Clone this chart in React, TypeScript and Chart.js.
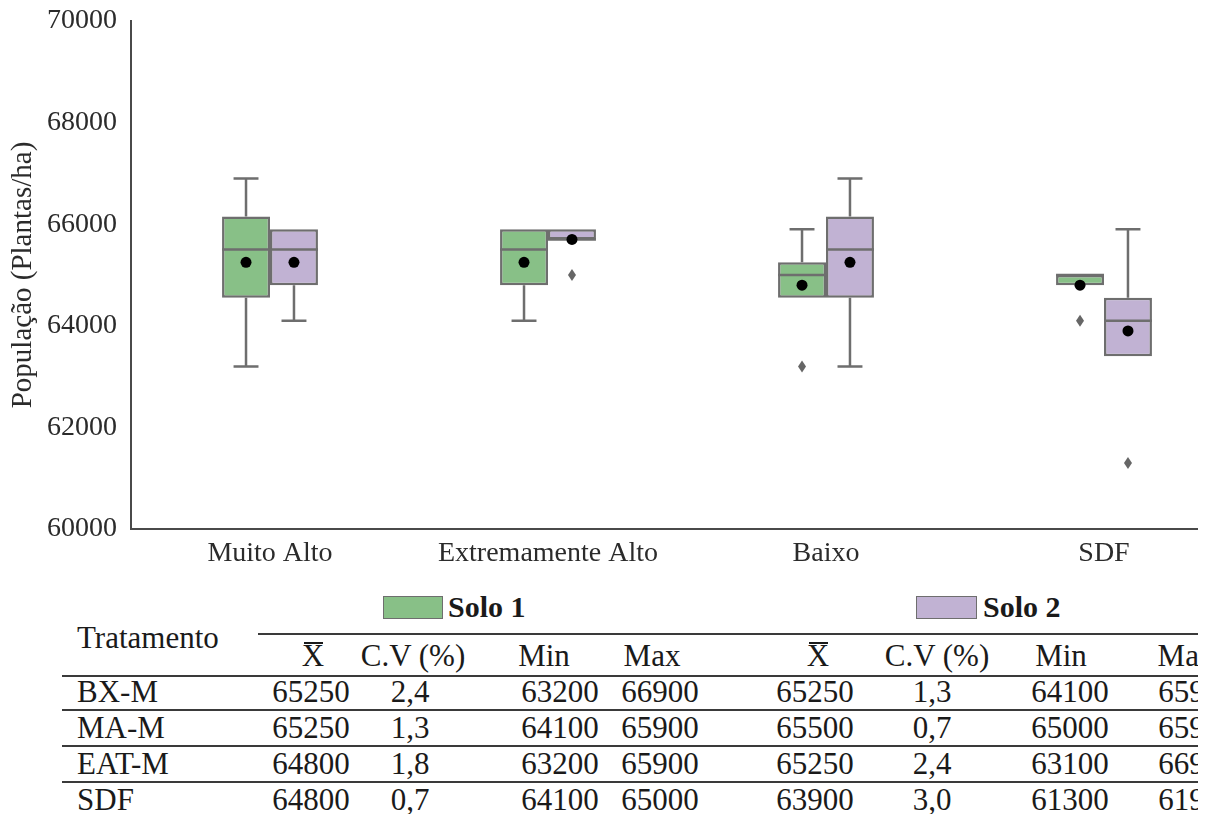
import React, { useEffect, useRef } from "react";
import { Chart, registerables } from "chart.js";

Chart.register(...registerables);

// ---------- Chart data ----------
const categories = ["Muito Alto", "Extremamente Alto", "Baixo", "SDF"];
const seriesNames = ["Solo 1", "Solo 2"];

const solo1WhiskerLow = [63200, 64100, 64550, 64800];
const solo1Q1 = [64550, 64800, 64550, 64800];
const solo1Median = [65500, 65500, 65000, 65000];
const solo1Q3 = [66150, 65900, 65250, 65000];
const solo1WhiskerHigh = [66900, 65900, 65900, 65000];
const solo1Mean = [65250, 65250, 64800, 64800];
const solo1Outliers = [[], [], [63200], [64100]];

const solo2WhiskerLow = [64100, 65700, 63200, 63400];
const solo2Q1 = [64800, 65700, 64550, 63400];
const solo2Median = [65500, 65700, 65500, 64100];
const solo2Q3 = [65900, 65900, 66150, 64550];
const solo2WhiskerHigh = [65900, 65900, 66900, 65900];
const solo2Mean = [65250, 65700, 65250, 63900];
const solo2Outliers = [[], [65000], [], [61300]];

const yTicks = [60000, 62000, 64000, 66000, 68000, 70000];
const yTitle = "População (Plantas/ha)";

// ---------- Table data ----------
const tableTitle = "Tratamento";
const tableColumns = ["X", "C.V (%)", "Min", "Max"];
const tableRowLabels = ["BX-M", "MA-M", "EAT-M", "SDF"];
const tblSolo1Mean = ["65250", "65250", "64800", "64800"];
const tblSolo1CV = ["2,4", "1,3", "1,8", "0,7"];
const tblSolo1Min = ["63200", "64100", "63200", "64100"];
const tblSolo1Max = ["66900", "65900", "65900", "65000"];
const tblSolo2Mean = ["65250", "65500", "65250", "63900"];
const tblSolo2CV = ["1,3", "0,7", "2,4", "3,0"];
const tblSolo2Min = ["64100", "65000", "63100", "61300"];
const tblSolo2Max = ["65900", "65900", "66900", "61900"];

// ---------- Styles ----------
const GREEN = "#88c087";
const PURPLE = "#c1b2d3";
const STROKE = "#6e6e6e";
const FONT = "'Liberation Serif', 'Times New Roman', serif";
const TEXT = "#2b2b2b";

const stats = [
  { low: solo1WhiskerLow, q1: solo1Q1, med: solo1Median, q3: solo1Q3, high: solo1WhiskerHigh, mean: solo1Mean, out: solo1Outliers },
  { low: solo2WhiskerLow, q1: solo2Q1, med: solo2Median, q3: solo2Q3, high: solo2WhiskerHigh, mean: solo2Mean, out: solo2Outliers },
];

const boxPlugin = {
  id: "boxExtras",
  afterDatasetsDraw(chart: any) {
    const ctx = chart.ctx;
    const y = chart.scales.y;
    stats.forEach((s, d) => {
      const meta = chart.getDatasetMeta(d);
      meta.data.forEach((bar: any, i: number) => {
        const x = bar.x;
        const w = bar.width;
        const cap = w * 0.26;
        ctx.save();
        ctx.strokeStyle = STROKE;
        ctx.lineWidth = 2.5;
        const yq1 = y.getPixelForValue(s.q1[i]);
        const yq3 = y.getPixelForValue(s.q3[i]);
        const ylo = y.getPixelForValue(s.low[i]);
        const yhi = y.getPixelForValue(s.high[i]);
        if (s.low[i] < s.q1[i]) {
          ctx.beginPath();
          ctx.moveTo(x, yq1);
          ctx.lineTo(x, ylo);
          ctx.moveTo(x - cap, ylo);
          ctx.lineTo(x + cap, ylo);
          ctx.stroke();
        }
        if (s.high[i] > s.q3[i]) {
          ctx.beginPath();
          ctx.moveTo(x, yq3);
          ctx.lineTo(x, yhi);
          ctx.moveTo(x - cap, yhi);
          ctx.lineTo(x + cap, yhi);
          ctx.stroke();
        }
        const ym = y.getPixelForValue(s.med[i]);
        ctx.beginPath();
        ctx.moveTo(x - w / 2, ym);
        ctx.lineTo(x + w / 2, ym);
        ctx.stroke();
        ctx.fillStyle = "#666666";
        s.out[i].forEach((v: number) => {
          const yo = y.getPixelForValue(v);
          ctx.beginPath();
          ctx.moveTo(x, yo - 6);
          ctx.lineTo(x + 4, yo);
          ctx.lineTo(x, yo + 6);
          ctx.lineTo(x - 4, yo);
          ctx.closePath();
          ctx.fill();
        });
        const ymean = y.getPixelForValue(s.mean[i]);
        ctx.fillStyle = "#000000";
        ctx.beginPath();
        ctx.arc(x, ymean, 5.5, 0, Math.PI * 2);
        ctx.fill();
        ctx.restore();
      });
    });
  },
};

function BoxChart() {
  const ref = useRef<HTMLCanvasElement | null>(null);
  useEffect(() => {
    if (!ref.current) return;
    const chart = new Chart(ref.current, {
      type: "bar",
      data: {
        labels: categories,
        datasets: [
          {
            label: seriesNames[0],
            data: solo1Q1.map((q, i) => [q, solo1Q3[i]]) as any,
            backgroundColor: GREEN,
            borderColor: STROKE,
            borderWidth: 2.5,
            borderSkipped: false,
            categoryPercentage: 0.345,
            barPercentage: 1,
          },
          {
            label: seriesNames[1],
            data: solo2Q1.map((q, i) => [q, solo2Q3[i]]) as any,
            backgroundColor: PURPLE,
            borderColor: STROKE,
            borderWidth: 2.5,
            borderSkipped: false,
            categoryPercentage: 0.345,
            barPercentage: 1,
          },
        ],
      },
      options: {
        animation: false,
        responsive: false,
        devicePixelRatio: 1,
        layout: { padding: { top: 21, left: 0, right: 0, bottom: 0 } },
        plugins: { legend: { display: false }, tooltip: { enabled: false } },
        scales: {
          x: {
            grid: { display: false, drawTicks: false },
            border: { display: true, color: "#4a4a4a", width: 2 },
            ticks: { font: { family: FONT, size: 28 }, color: TEXT, padding: 8 },
            afterFit: (scale: any) => {
              scale.height = 51;
              scale.paddingLeft = 0;
              scale.paddingRight = 0;
            },
          },
          y: {
            min: 60000,
            max: 70000,
            grid: { display: false, drawTicks: false },
            border: { display: true, color: "#4a4a4a", width: 2 },
            afterBuildTicks: (scale: any) => {
              scale.ticks = yTicks.map((v) => ({ value: v }));
            },
            ticks: {
              font: { family: FONT, size: 28 },
              color: TEXT,
              padding: 14,
              callback: (v: any) => String(v),
            },
            title: {
              display: true,
              text: yTitle,
              font: { family: FONT, size: 29 },
              color: TEXT,
              padding: { top: 6, bottom: 0 },
            },
            afterFit: (scale: any) => {
              scale.width = 131;
              scale.paddingTop = 0;
              scale.paddingBottom = 0;
            },
          },
        },
      },
      plugins: [boxPlugin],
    });
    return () => chart.destroy();
  }, []);
  return <canvas ref={ref} width={1243} height={580} style={{ display: "block" }} />;
}

const txt = (content: any, left: number, cy: number, opts: any = {}) => {
  const w = opts.width ?? 160;
  const align = opts.align ?? "center";
  const l = align === "center" ? left - w / 2 : left;
  return (
    <div
      key={`${left}-${cy}`}
      style={{
        position: "absolute",
        left: l,
        top: cy - 15,
        width: w,
        height: 30,
        lineHeight: "30px",
        fontSize: opts.size ?? 31,
        fontWeight: opts.bold ? "bold" : "normal",
        textAlign: align,
        whiteSpace: "nowrap",
        color: "#1a1a1a",
        fontFamily: FONT,
      }}
    >
      {content}
    </div>
  );
};

const hLine = (y: number, x1: number, x2: number) => (
  <div
    key={`line-${y}`}
    style={{ position: "absolute", left: x1, top: y - 1, width: x2 - x1, height: 2, background: "#3a3a3a" }}
  />
);

function StatsTable() {
  const headerCenters1 = [313, 413, 544, 652];
  const headerCenters2 = [818, 937, 1061, 1186];
  const dataCenters1 = [311, 410, 560, 660];
  const dataCenters2 = [815, 932, 1070, 1197];
  const rowY = [692, 728, 764, 800];
  const cols1 = [tblSolo1Mean, tblSolo1CV, tblSolo1Min, tblSolo1Max];
  const cols2 = [tblSolo2Mean, tblSolo2CV, tblSolo2Min, tblSolo2Max];
  const els: any[] = [];
  els.push(
    <div key="sw1" style={{ position: "absolute", left: 383, top: 596, width: 58, height: 21, background: GREEN, border: `1px solid ${STROKE}` }} />
  );
  els.push(txt(seriesNames[0], 448, 607, { align: "left", bold: true, size: 30 }));
  els.push(
    <div key="sw2" style={{ position: "absolute", left: 916, top: 596, width: 59, height: 21, background: PURPLE, border: `1px solid ${STROKE}` }} />
  );
  els.push(txt(seriesNames[1], 983, 607, { align: "left", bold: true, size: 30 }));
  els.push(txt(tableTitle, 77, 638, { align: "left", width: 200 }));
  els.push(hLine(634, 258, 1210));
  tableColumns.forEach((c, k) => {
    els.push(txt(c, headerCenters1[k], 656));
    els.push(txt(c, headerCenters2[k], 656));
    if (k === 0) {
      [headerCenters1[k], headerCenters2[k]].forEach((cx) =>
        els.push(
          <div key={`bar-${cx}`} style={{ position: "absolute", left: cx - 9, top: 642, width: 19, height: 2, background: "#1a1a1a" }} />
        )
      );
    }
  });
  els.push(hLine(676, 62, 1210));
  tableRowLabels.forEach((r, i) => {
    els.push(txt(r, 77, rowY[i], { align: "left", width: 150 }));
    cols1.forEach((col, k) => els.push(txt(col[i], dataCenters1[k], rowY[i])));
    cols2.forEach((col, k) => els.push(txt(col[i], dataCenters2[k], rowY[i])));
    if (i < tableRowLabels.length - 1) els.push(hLine(rowY[i] + 18, 62, 1210));
  });
  return <>{els}</>;
}

export default function App() {
  return (
    <div
      style={{
        position: "fixed",
        left: 0,
        top: 0,
        width: 1210,
        height: 814,
        background: "#ffffff",
      }}
    >
      <div
        style={{
          position: "absolute",
          left: 0,
          top: 0,
          width: 1198,
          height: 814,
          overflow: "hidden",
        }}
      >
        <div style={{ position: "absolute", left: 0, top: 0 }}>
          <BoxChart />
        </div>
        <StatsTable />
      </div>
    </div>
  );
}
